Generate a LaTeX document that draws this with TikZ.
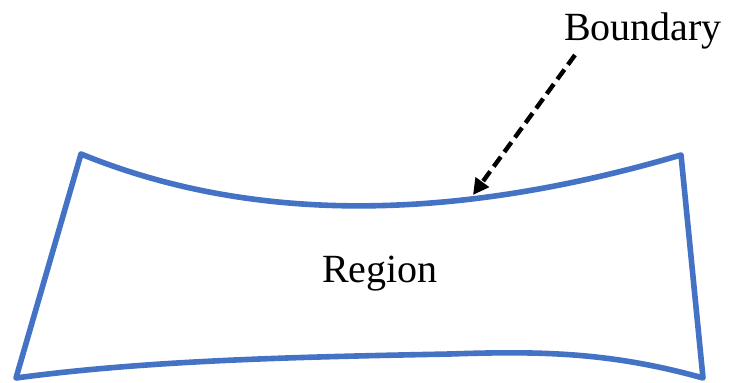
\documentclass[tikz,border=0pt]{standalone}
\usepackage{fontspec}
\setmainfont{Liberation Serif}
\usetikzlibrary{arrows.meta}
\definecolor{bblue}{RGB}{68,114,196}
\begin{document}
\begin{tikzpicture}[x=0.5pt,y=-0.5pt,
  boundaryline/.style={draw=bblue,line width=2.8pt,line join=round},
  pointer/.style={line width=2.2pt,dash pattern=on 6pt off 3pt,-{Triangle[length=8pt,width=8pt]}},
  lbl/.style={font=\fontsize{20}{24}\selectfont,inner sep=0pt}]
\useasboundingbox (0,0) rectangle (729,383);
\draw[boundaryline] (81,154) .. controls (250,223) and (450,223) .. (681,155)
  -- (703,378)
  .. controls (610,352) and (540,351) .. (450,354)
  .. controls (300,357) and (150,360) .. (16,378) -- cycle;
\node[lbl] (region) at (380,274) {Region};
\node[lbl] (bnd) at (643,31) {Boundary};
\coordinate (astart) at (575,55);
\coordinate (aend) at (473,195);
\draw[pointer] (astart) -- (aend);
\end{tikzpicture}
\end{document}
